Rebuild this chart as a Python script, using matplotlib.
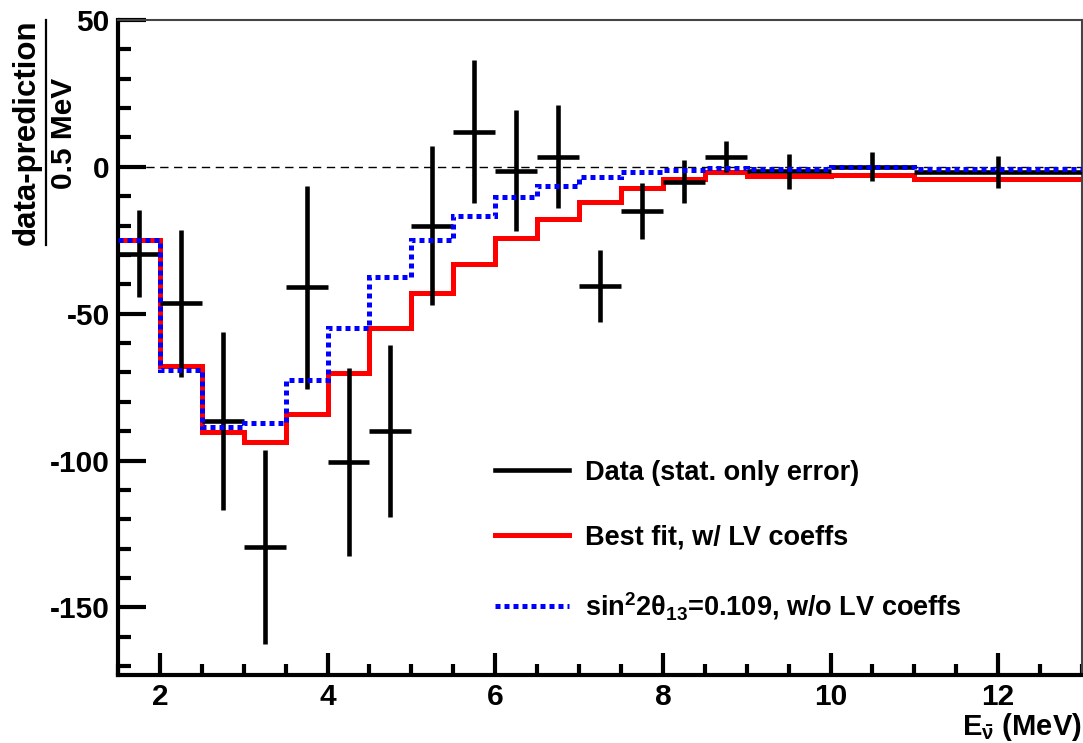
import numpy as np
import matplotlib
matplotlib.use("Agg")
import matplotlib.pyplot as plt
from matplotlib.lines import Line2D
from matplotlib.ticker import MultipleLocator

plt.rcParams['font.family'] = ['Liberation Sans', 'DejaVu Sans']
plt.rcParams['font.weight'] = 'bold'
plt.rcParams['axes.unicode_minus'] = False
plt.rcParams['mathtext.fontset'] = 'custom'
plt.rcParams['mathtext.rm'] = 'Liberation Sans:bold'
plt.rcParams['mathtext.it'] = 'Liberation Sans:bold'
plt.rcParams['mathtext.bf'] = 'Liberation Sans:bold'

# bin edges (MeV)
bin_edges = [1.5, 2.0, 2.5, 3.0, 3.5, 4.0, 4.5, 5.0, 5.5, 6.0, 6.5, 7.0,
             7.5, 8.0, 8.5, 9.0, 10.0, 11.0, 13.0]

# data - prediction per 0.5 MeV, stat. errors
data_vals = [-29.5, -46.5, -86.5, -129.5, -41.0, -100.5, -90.0, -20.0, 12.0,
             -1.3, 3.5, -40.5, -15.0, -5.0, 3.5, -1.5, 0.0, -1.8]
data_err = [14.7, 24.9, 30.3, 33.0, 34.6, 32.0, 29.3, 27.0, 24.4,
            20.5, 17.4, 12.2, 9.4, 7.2, 5.2, 6.0, 4.9, 5.5]

# best fit with LV coefficients
best_fit = [-25.0, -67.8, -90.2, -93.6, -84.0, -70.1, -54.8, -42.8, -33.2,
            -24.1, -17.7, -11.8, -7.3, -4.1, -1.8, -3.1, -2.7, -4.1]

# sin^2 2theta13 = 0.109, no LV coefficients
no_lv = [-25.0, -69.2, -88.5, -87.2, -72.6, -55.0, -37.4, -25.0, -16.6,
         -10.3, -6.4, -3.5, -1.7, -1.0, -0.4, -0.7, -0.1, -0.8]

edges = np.array(bin_edges)
centers = 0.5 * (edges[1:] + edges[:-1])
half_w = 0.5 * (edges[1:] - edges[:-1])

fig = plt.figure(figsize=(10.83, 7.43), dpi=100)
ax = fig.add_axes([118 / 1083, 1 - 675 / 743, 964 / 1083, 655 / 743])

ax.axhline(0, color='black', lw=1.0, ls=(0, (6, 4)), zorder=1)
ax.stairs(best_fit, edges, color='#ff0000', lw=3.6, baseline=None, zorder=2)
ax.errorbar(centers, data_vals, yerr=data_err, xerr=half_w, fmt='none',
            ecolor='black', elinewidth=3.3, capsize=0, zorder=3)
ax.stairs(no_lv, edges, color='#0000ff', lw=3.6, ls=(0, (1, 0.8)),
          baseline=None, zorder=4)

ax.set_xlim(1.5, 13)
ax.set_ylim(-173, 50)

ax.xaxis.set_major_locator(MultipleLocator(2))
ax.xaxis.set_minor_locator(MultipleLocator(0.5))
ax.yaxis.set_major_locator(MultipleLocator(50))
ax.yaxis.set_minor_locator(MultipleLocator(10))

ax.tick_params(axis='both', which='both', direction='in', width=3,
               labelsize=21.5, top=False, right=False)
ax.tick_params(axis='y', which='major', length=20, pad=6)
ax.tick_params(axis='y', which='minor', length=9.5)
ax.tick_params(axis='x', which='major', length=16, pad=6)
ax.tick_params(axis='x', which='minor', length=8)

for s in ['left', 'bottom']:
    ax.spines[s].set_linewidth(3)
for s in ['top', 'right']:
    ax.spines[s].set_linewidth(1.5)
    ax.spines[s].set_color('#444444')

# axis titles (ROOT style)
ax.text(1.0, -0.079, r'$\mathbf{E}_{\bar{\nu}}$ (MeV)', transform=ax.transAxes,
        ha='right', va='center', fontsize=21, fontweight='bold')
fig.text(27 / 1083, 1 - 132 / 743, 'data-prediction', rotation=90,
         ha='center', va='center', fontsize=22.5, fontweight='bold')
fig.text(64 / 1083, 1 - 133 / 743, '0.5 MeV', rotation=90,
         ha='center', va='center', fontsize=21.5, fontweight='bold')
fig.add_artist(Line2D([45.7 / 1083, 45.7 / 1083], [1 - 20 / 743, 1 - 245 / 743],
                      color='black', lw=1.6))

handles = [
    Line2D([], [], color='black', lw=3.3),
    Line2D([], [], color='#ff0000', lw=3.6),
    Line2D([], [], color='#0000ff', lw=3.6, ls=(0, (1, 0.8))),
]
labels = ['Data (stat. only error)', 'Best fit, w/ LV coeffs',
          r'sin$^{2}$2$\theta_{13}$=0.109, w/o LV coeffs']
ax.legend(handles, labels, loc='upper left', bbox_to_anchor=(0.391, 0.329),
          frameon=False, fontsize=19.5, handlelength=2.72, handletextpad=0.62,
          labelspacing=1.45, borderpad=0, borderaxespad=0)

fig.savefig('out.png', dpi=100)
